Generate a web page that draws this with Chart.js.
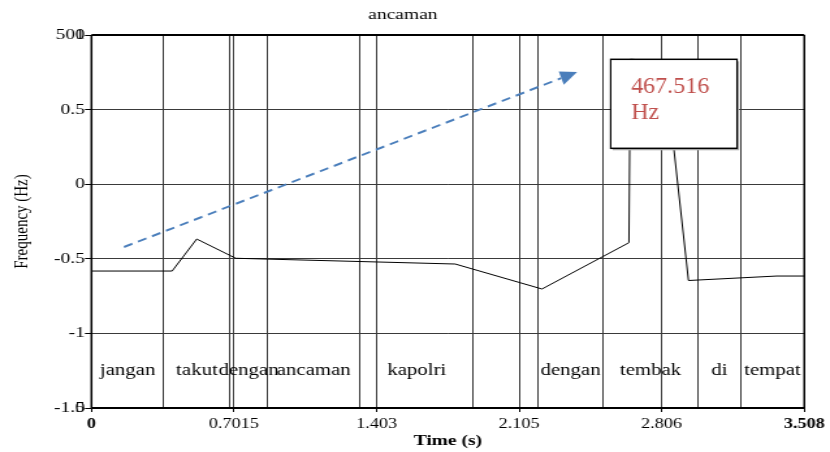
<!DOCTYPE html>
<html>
<head>
<meta charset="utf-8">
<script src="https://cdn.jsdelivr.net/npm/chart.js@4"></script>
<style>
html,body{margin:0;padding:0;background:#fff;}
#pitch{display:block;}
</style>
</head>
<body>
<canvas id="pitch" width="638" height="452" style="width:830px;height:452px"></canvas>
<script>
// the source image is widened sideways, so draw narrow and let css stretch it
const stretch=830/638;
const serif='"Liberation Serif", "Times New Roman", serif';

const pitchTimes=[0,0.397,0.518,0.710,1.790,2.217,2.645,2.652,2.818,2.938,3.372,3.508];
const pitchHz=[183.6,183.6,226.5,200.7,193.0,159.5,221.6,467.516,465.0,170.9,176.9,176.9];
const words=["jangan","takut","dengan","ancaman","kapolri","","dengan","tembak","di","tempat"];
const wordBounds=[0,0.356,0.682,0.865,1.322,1.880,2.199,2.517,2.985,3.194,3.508];
const timeTicks=[0,0.7015,1.403,2.105,2.806,3.508];
const timeTickLabels=["0","0.7015","1.403","2.105","2.806","3.508"];
const levelTickLabels=["-1.5","-1","-0.5","0","0.5","1"];
const hzTicks=[0,500];
const peakHz=467.516;
// annotation anchors in (s, Hz)
const arrowFrom=[0.160,215.8], arrowTo=[2.390,450.4];
const boxCorners=[2.555,467.4,3.177,348.1];

const overlay={
  id:'overlay',
  afterDatasetsDraw(chart){
    const {ctx,chartArea:a,scales:{x,y,yd}}=chart;
    ctx.save();
    // word labels
    ctx.font='16px '+serif;
    ctx.fillStyle='#000';ctx.textAlign='center';ctx.textBaseline='middle';
    words.forEach((w,i)=>{
      if(!w)return;
      const cx=(x.getPixelForValue(wordBounds[i])+x.getPixelForValue(wordBounds[i+1]))/2;
      ctx.fillText(w,cx,a.bottom-37);
    });
    // Hz labels sit on top of the level labels
    ctx.font='15px '+serif;ctx.textAlign='right';
    hzTicks.forEach(v=>ctx.fillText(String(v),yd.right-5,y.getPixelForValue(v)));
    // frame
    ctx.strokeStyle='#000';
    ctx.lineWidth=2;
    ctx.beginPath();ctx.moveTo(a.left,a.top);ctx.lineTo(a.right,a.top);
    ctx.moveTo(a.left,a.bottom);ctx.lineTo(a.right,a.bottom);ctx.stroke();
    ctx.lineWidth=1.5;
    ctx.beginPath();ctx.moveTo(a.left,a.top);ctx.lineTo(a.left,a.bottom);
    ctx.moveTo(a.right,a.top);ctx.lineTo(a.right,a.bottom);ctx.stroke();

    // arrow + box drawn unstretched
    ctx.scale(1/stretch,1);
    const px=t=>x.getPixelForValue(t)*stretch;
    const x0=px(arrowFrom[0]),y0=y.getPixelForValue(arrowFrom[1]);
    const x1=px(arrowTo[0]),y1=y.getPixelForValue(arrowTo[1]);
    const ang=Math.atan2(y1-y0,x1-x0),hl=17,hw=7;
    const bx=x1-hl*Math.cos(ang),by=y1-hl*Math.sin(ang);
    ctx.strokeStyle='#4A7EBB';ctx.fillStyle='#4A7EBB';ctx.lineWidth=2;
    ctx.setLineDash([9,6]);
    ctx.beginPath();ctx.moveTo(x0,y0);ctx.lineTo(bx,by);ctx.stroke();
    ctx.setLineDash([]);
    ctx.beginPath();ctx.moveTo(x1,y1);
    ctx.lineTo(bx+hw*Math.sin(ang),by-hw*Math.cos(ang));
    ctx.lineTo(bx-hw*Math.sin(ang),by+hw*Math.cos(ang));
    ctx.closePath();ctx.fill();

    const l=px(boxCorners[0]),r=px(boxCorners[2]);
    const t=y.getPixelForValue(boxCorners[1]),b=y.getPixelForValue(boxCorners[3]);
    ctx.fillStyle='#b0b0b0';ctx.fillRect(l+2,t+2,r-l,b-t);
    ctx.fillStyle='#fff';ctx.fillRect(l,t,r-l,b-t);
    ctx.strokeStyle='#000';ctx.lineWidth=1.5;ctx.strokeRect(l,t,r-l,b-t);
    ctx.fillStyle='#C0504D';ctx.font='24px '+serif;
    ctx.textAlign='left';ctx.textBaseline='alphabetic';
    ctx.fillText(peakHz.toFixed(3),l+20.5,t+33.5);
    ctx.fillText('Hz',l+20.5,t+60);
    ctx.restore();
  }
};

const gridColor='#3a3a3a';
new Chart(document.getElementById('pitch'),{
  type:'line',
  data:{
    datasets:[{
      data:pitchTimes.map((t,i)=>({x:t,y:pitchHz[i]})),
      borderColor:'#000',
      borderWidth:1,
      pointRadius:0,
      tension:0,
      fill:false,
      xAxisID:'x',
      yAxisID:'y'
    }]
  },
  options:{
    responsive:false,
    animation:false,
    layout:{padding:{left:0,right:18.7,top:0,bottom:0}},
    plugins:{
      legend:{display:false},
      tooltip:{enabled:false},
      title:{display:true,text:'ancaman',color:'#000',
        font:{family:serif,size:15,weight:'normal'},padding:{top:6,bottom:11}}
    },
    scales:{
      x:{
        type:'linear',position:'bottom',min:0,max:3.508,
        afterBuildTicks:s=>{s.ticks=timeTicks.map(v=>({value:v}));},
        afterFit:s=>{s.height=44;},
        grid:{color:gridColor,tickColor:'#000',tickLength:4},
        border:{display:false},
        ticks:{color:'#000',padding:4,maxRotation:0,autoSkip:false,
          font:c=>({family:serif,size:14,weight:(c.index===0||c.index===timeTicks.length-1)?'bold':'normal'}),
          callback:(v,i)=>timeTickLabels[i]},
        title:{display:true,text:'Time (s)',color:'#000',
          font:{family:serif,size:15,weight:'bold'},padding:{top:0,bottom:2}}
      },
      xw:{
        type:'linear',position:'top',min:0,max:3.508,
        afterBuildTicks:s=>{s.ticks=wordBounds.slice(1,-1).map(v=>({value:v}));},
        afterFit:s=>{s.height=0;},
        grid:{color:gridColor,drawTicks:false},
        border:{display:false},
        ticks:{display:false}
      },
      y:{
        type:'linear',display:false,min:0,max:500
      },
      yd:{
        type:'linear',position:'left',min:-1.5,max:1,
        afterFit:s=>{s.width=70.3;},
        grid:{color:gridColor,tickColor:'#000',tickLength:5},
        border:{display:false},
        ticks:{stepSize:0.5,color:'#000',padding:0,
          font:{family:serif,size:15},
          callback:(v,i)=>levelTickLabels[i]},
        title:{display:true,text:'Frequency (Hz)',color:'#000',
          font:{family:serif,size:15,weight:'normal'},padding:{top:8,bottom:0}}
      }
    }
  },
  plugins:[overlay]
});
</script>
</body>
</html>
